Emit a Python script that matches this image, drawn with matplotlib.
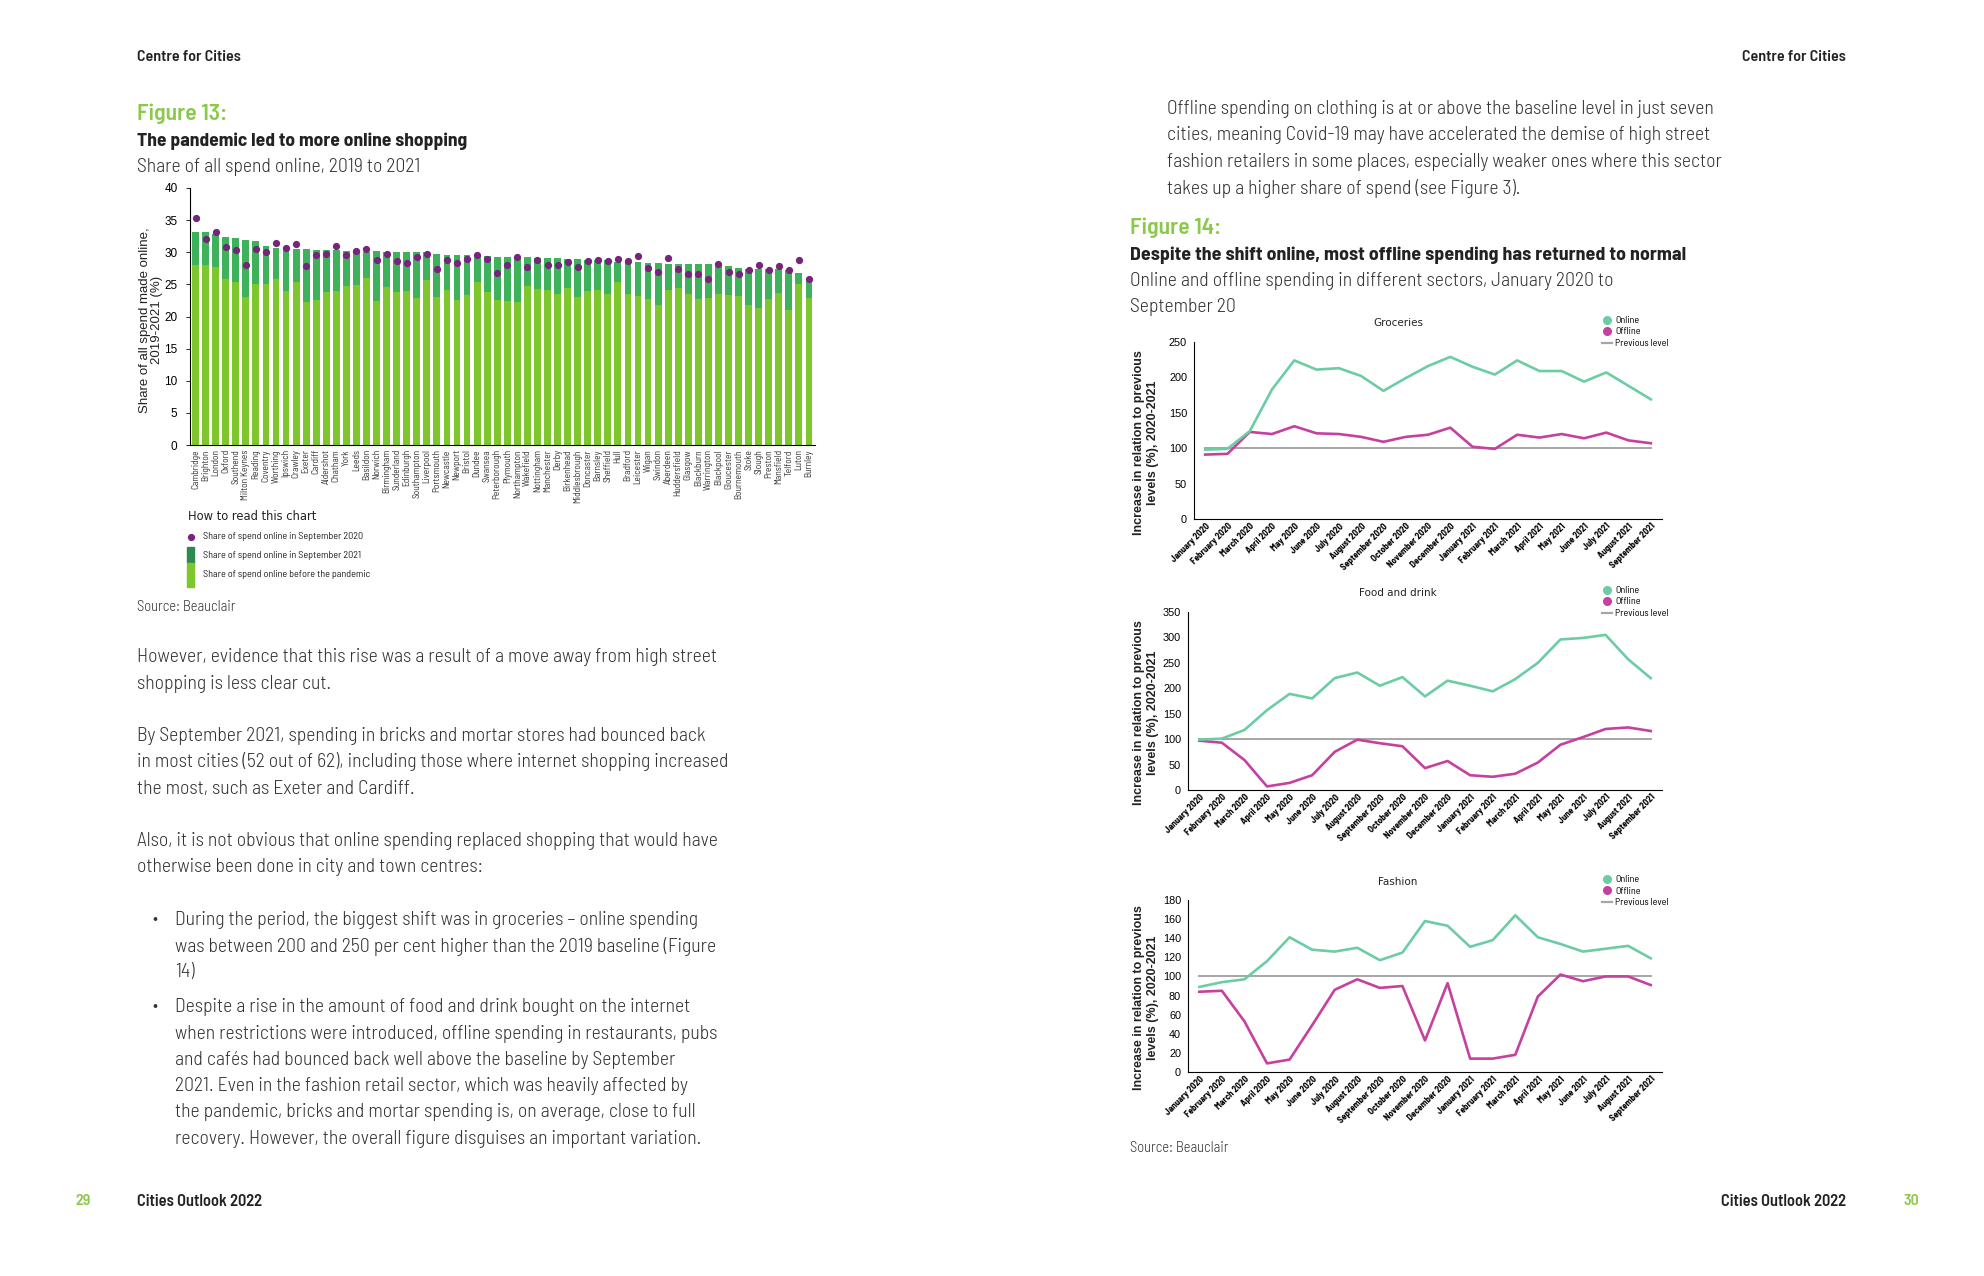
import matplotlib
matplotlib.use("Agg")
import matplotlib.pyplot as plt
from matplotlib.lines import Line2D
from matplotlib.patches import Rectangle

# ---------------- data ----------------
cities = ["Cambridge", "Brighton", "London", "Oxford", "Southend", "Milton Keynes", "Reading",
          "Coventry", "Worthing", "Ipswich", "Crawley", "Exeter", "Cardiff", "Aldershot",
          "Chatham", "York", "Leeds", "Basildon", "Norwich", "Birmingham", "Sunderland",
          "Edinburgh", "Southampton", "Liverpool", "Portsmouth", "Newcastle", "Newport",
          "Bristol", "Dundee", "Swansea", "Peterborough", "Plymouth", "Northampton",
          "Wakefield", "Nottingham", "Manchester", "Derby", "Birkenhead", "Middlesbrough",
          "Doncaster", "Barnsley", "Sheffield", "Hull", "Bradford", "Leicester", "Wigan",
          "Swindon", "Aberdeen", "Huddersfield", "Glasgow", "Blackburn", "Warrington",
          "Blackpool", "Gloucester", "Bournemouth", "Stoke", "Slough", "Preston",
          "Mansfield", "Telford", "Luton", "Burnley"]
# share online before the pandemic
pre_pandemic = [28.0, 28.0, 27.7, 25.9, 25.3, 23.1, 25.0, 25.0, 25.9, 24.0, 25.3, 22.3, 22.6,
                23.8, 24.0, 24.7, 24.9, 26.0, 22.4, 24.6, 23.8, 24.0, 22.9, 25.7, 23.0, 24.1,
                22.6, 23.3, 25.4, 23.8, 22.6, 22.4, 22.3, 24.7, 24.3, 24.1, 23.5, 24.4, 23.1,
                24.0, 24.1, 23.5, 25.4, 23.5, 23.2, 22.7, 21.8, 24.1, 24.4, 23.5, 22.7, 22.9,
                23.5, 23.3, 23.2, 21.8, 21.3, 22.7, 23.6, 21.0, 25.0, 22.9]
# share online in September 2021 (bar top)
sep_2021 = [33.1, 33.1, 32.8, 32.3, 32.2, 31.9, 31.7, 30.9, 30.6, 30.5, 30.5, 30.5, 30.3,
            30.3, 30.3, 30.2, 30.1, 30.1, 30.2, 30.0, 30.0, 30.0, 30.0, 30.0, 29.7, 29.5,
            29.5, 29.5, 29.4, 29.4, 29.2, 29.2, 29.2, 29.2, 29.1, 29.1, 29.1, 28.9, 28.9,
            28.8, 28.8, 28.8, 28.5, 28.5, 28.5, 28.3, 28.3, 28.2, 28.2, 28.2, 28.2, 28.2,
            28.2, 27.8, 27.5, 27.4, 27.4, 27.4, 27.4, 27.2, 26.8, 25.5]
# share online in September 2020 (dots)
sep_2020 = [35.3, 32.1, 33.1, 30.8, 30.3, 28.0, 30.5, 30.1, 31.4, 30.6, 31.3, 27.8, 29.5,
            29.7, 30.9, 29.5, 30.2, 30.5, 28.8, 29.7, 28.7, 28.4, 29.2, 29.7, 27.4, 28.8,
            28.4, 28.9, 29.5, 29.0, 26.8, 28.0, 29.3, 27.7, 28.8, 28.0, 28.0, 28.5, 27.7,
            28.7, 28.8, 28.7, 29.0, 28.7, 29.4, 27.5, 27.0, 29.1, 27.4, 26.6, 26.6, 25.8,
            28.2, 27.0, 26.6, 27.2, 28.0, 27.2, 27.9, 27.2, 28.8, 25.9]

months = ["January 2020", "February 2020", "March 2020", "April 2020", "May 2020", "June 2020",
          "July 2020", "August 2020", "September 2020", "October 2020", "November 2020",
          "December 2020", "January 2021", "February 2021", "March 2021", "April 2021",
          "May 2021", "June 2021", "July 2021", "August 2021", "September 2021"]
previous_level = [100] * len(months)

groceries_online = [98, 99, 124, 183, 224, 211, 213, 202, 181, 199, 216, 229, 215, 204, 224,
                    209, 209, 194, 207, 188, 169]
groceries_offline = [91, 92, 123, 120, 131, 121, 120, 116, 109, 116, 119, 129, 102, 99, 119,
                     115, 120, 114, 122, 111, 107]
food_online = [99, 101, 118, 157, 189, 180, 220, 231, 205, 222, 184, 215, 205, 194, 218, 250,
               296, 299, 305, 257, 220]
food_offline = [97, 93, 59, 7, 14, 29, 75, 99, 92, 86, 43, 57, 29, 26, 32, 54, 89, 104, 120,
                123, 116]
fashion_online = [89, 94, 97, 116, 141, 128, 126, 130, 117, 125, 158, 153, 131, 138, 164, 141,
                  134, 126, 129, 132, 119]
fashion_offline = [84, 85, 53, 9, 13, 49, 86, 97, 88, 90, 33, 93, 14, 14, 18, 79, 102, 95, 100,
                   100, 91]

# ---------------- styling ----------------
W, H = 1984, 1276
NARROW = ["Barlow Semi Condensed", "DejaVu Sans"]
BODY = "#333333"
FIG_GREEN = "#8cc84b"
PRE_GREEN = "#7dc62b"
NEW_GREEN = "#3db25a"
LEGEND_GREEN = "#2e8a50"
PURPLE = "#76257d"
ONLINE = "#6ccca4"
OFFLINE = "#c5409f"
GREY = "#a6a6a6"
BODY_SIZE = 14.2

plt.rcParams["font.family"] = ["Liberation Sans", "DejaVu Sans"]


def fx(x):
    return x / W


def fy(y):
    return 1 - y / H


def axes_px(fig, left, top, right, bottom):
    return fig.add_axes([fx(left), fy(bottom), (right - left) / W, (bottom - top) / H])


def put(fig, x, y, s, size=BODY_SIZE, color=BODY, weight=300, ha="left", family=NARROW):
    fig.text(fx(x), fy(y), s, ha=ha, va="center", fontsize=size, color=color,
             fontweight=weight, family=family)


fig = plt.figure(figsize=(W / 100, H / 100), dpi=100)
fig.patch.set_facecolor("white")

# ---------------- page furniture ----------------
put(fig, 137, 57, "Centre for Cities", size=11.5, color="#222222", weight=600)
put(fig, 1846, 57, "Centre for Cities", size=11.5, color="#222222", weight=600, ha="right")
put(fig, 75, 1201, "29", size=11.5, color=FIG_GREEN, weight=600)
put(fig, 137, 1201, "Cities Outlook 2022", size=11.8, color="#222222", weight=600)
put(fig, 1846, 1201, "Cities Outlook 2022", size=11.8, color="#222222", weight=600, ha="right")
put(fig, 1904, 1201, "30", size=11.5, color=FIG_GREEN, weight=600)

# ---------------- left page: figure 13 ----------------
put(fig, 137, 114, "Figure 13:", size=17, color=FIG_GREEN, weight=600)
put(fig, 137, 141, "The pandemic led to more online shopping", size=14, color="#222222", weight=700)
put(fig, 137, 167, "Share of all spend online, 2019 to 2021")

ax = axes_px(fig, 190, 188, 815, 445)
x = list(range(len(cities)))
extra = [t - p for t, p in zip(sep_2021, pre_pandemic)]
ax.bar(x, pre_pandemic, width=0.68, color=PRE_GREEN, zorder=2)
ax.bar(x, extra, bottom=pre_pandemic, width=0.68, color=NEW_GREEN, zorder=2)
ax.plot(x, sep_2020, "o", color=PURPLE, markersize=4.2, zorder=3)
ax.set_xlim(-0.55, len(cities) - 0.4)
ax.set_ylim(0, 40)
ax.set_yticks(range(0, 41, 5))
ax.set_xticks(x)
ax.set_xticklabels(cities, rotation=90, fontsize=6.8, family=NARROW, color="#333333")
ax.tick_params(axis="x", length=0, pad=3)
ax.tick_params(axis="y", length=3, width=0.6, labelsize=8.5, pad=6)
for s in ["top", "right"]:
    ax.spines[s].set_visible(False)
for s in ["left", "bottom"]:
    ax.spines[s].set_linewidth(0.8)
fig.text(fx(151), fy(320), "Share of all spend made online,\n2019-2021 (%)", rotation=90,
         ha="center", va="center", fontsize=9.5, color="#222222", linespacing=1.1)

# how to read this chart
put(fig, 188, 516, "How to read this chart", size=8.3, color="#222222", weight="normal",
    family=["DejaVu Sans"])
fig.add_artist(Line2D([fx(191)], [fy(537)], marker="o", color=PURPLE, markersize=4.2,
                      transform=fig.transFigure))
fig.add_artist(Rectangle((fx(187), fy(563)), 7 / W, 16 / H, color=LEGEND_GREEN,
                         transform=fig.transFigure))
fig.add_artist(Rectangle((fx(187), fy(587)), 7 / W, 24 / H, color=PRE_GREEN,
                         transform=fig.transFigure))
put(fig, 203, 537, "Share of spend online in September 2020", size=7.3, color="#222222", weight=400)
put(fig, 203, 555, "Share of spend online in September 2021", size=7.3, color="#222222", weight=400)
put(fig, 203, 575, "Share of spend online before the pandemic", size=7.3, color="#222222", weight=400)
put(fig, 137, 607, "Source: Beauclair", size=10.5)

# body text
left_lines = [
    (137, 657, "However, evidence that this rise was a result of a move away from high street"),
    (137, 684, "shopping is less clear cut."),
    (137, 736, "By September 2021, spending in bricks and mortar stores had bounced back"),
    (137, 762, "in most cities (52 out of 62), including those where internet shopping increased"),
    (137, 789, "the most, such as Exeter and Cardiff."),
    (137, 841, "Also, it is not obvious that online spending replaced shopping that would have"),
    (137, 867, "otherwise been done in city and town centres:"),
    (175, 920, "During the period, the biggest shift was in groceries \u2013 online spending"),
    (175, 946, "was between 200 and 250 per cent higher than the 2019 baseline (Figure"),
    (175, 972, "14)"),
    (175, 1007, "Despite a rise in the amount of food and drink bought on the internet"),
    (175, 1034, "when restrictions were introduced, offline spending in restaurants, pubs"),
    (175, 1060, "and caf\u00e9s had bounced back well above the baseline by September"),
    (175, 1086, "2021. Even in the fashion retail sector, which was heavily affected by"),
    (175, 1112, "the pandemic, bricks and mortar spending is, on average, close to full"),
    (175, 1139, "recovery. However, the overall figure disguises an important variation."),
]
for lx, ly, s in left_lines:
    put(fig, lx, ly, s)
put(fig, 152, 920, "\u2022", size=12)
put(fig, 152, 1007, "\u2022", size=12)

# ---------------- right page: figure 14 ----------------
right_lines = [
    (1167, 109, "Offline spending on clothing is at or above the baseline level in just seven"),
    (1167, 135, "cities, meaning Covid-19 may have accelerated the demise of high street"),
    (1167, 162, "fashion retailers in some places, especially weaker ones where this sector"),
    (1167, 188, "takes up a higher share of spend (see Figure 3)."),
]
for lx, ly, s in right_lines:
    put(fig, lx, ly, s)
put(fig, 1130, 228, "Figure 14:", size=17, color=FIG_GREEN, weight=600)
put(fig, 1130, 255, "Despite the shift online, most offline spending has returned to normal",
    size=14.3, color="#222222", weight=700)
put(fig, 1130, 281, "Online and offline spending in different sectors, January 2020 to")
put(fig, 1130, 307, "September 20")

panels = [
    ("Groceries", groceries_online, groceries_offline, 250, 50, (1194, 342, 1662, 519), 323),
    ("Food and drink", food_online, food_offline, 350, 50, (1188, 612, 1662, 790), 593),
    ("Fashion", fashion_online, fashion_offline, 180, 20, (1188, 900, 1662, 1072), 882),
]
for title, online, offline, ymax, step, box, ty in panels:
    a = axes_px(fig, *box)
    xs = list(range(len(months)))
    a.plot(xs, previous_level, color=GREY, lw=1.4, zorder=1)
    a.plot(xs, offline, color=OFFLINE, lw=1.9, zorder=2)
    a.plot(xs, online, color=ONLINE, lw=1.9, zorder=3)
    a.set_xlim(-0.5, len(months) - 0.5)
    a.set_ylim(0, ymax)
    a.set_yticks(range(0, ymax + 1, step))
    a.set_xticks(xs)
    a.set_xticklabels(months, rotation=45, ha="right", rotation_mode="anchor",
                      fontsize=6.6, fontweight=700, family=NARROW)
    a.tick_params(axis="x", length=0, pad=2)
    a.tick_params(axis="y", length=0, labelsize=7.8, pad=5)
    for s in ["top", "right"]:
        a.spines[s].set_visible(False)
    a.spines["left"].set_linewidth(0.8)
    a.spines["bottom"].set_linewidth(0.8)
    cy = (box[1] + box[3]) / 2
    fig.text(fx(1146), fy(cy + 12), "Increase in relation to previous\nlevels (%), 2020-2021",
             rotation=90, ha="center", va="center", fontsize=9, fontweight="bold",
             color="#222222", linespacing=1.15)
    put(fig, 1398, ty, title, size=7.5, color="#222222", weight="normal", ha="center",
        family=["DejaVu Sans"])
    handles = [
        Line2D([], [], ls="none", marker="o", color=ONLINE, markersize=5.5, label="Online"),
        Line2D([], [], ls="none", marker="o", color=OFFLINE, markersize=5.5, label="Offline"),
        Line2D([], [], color=GREY, lw=1.6, label="Previous level"),
    ]
    a.legend(handles=handles, loc="upper left", bbox_to_anchor=(fx(1602), fy(ty - 7)),
             bbox_transform=fig.transFigure, frameon=False, handlelength=1.0,
             handletextpad=0.3, labelspacing=0.25, borderpad=0, borderaxespad=0,
             prop={"family": NARROW, "size": 7.2})

put(fig, 1130, 1148, "Source: Beauclair", size=10.5)

fig.savefig("out.png", dpi=100, facecolor="white")
